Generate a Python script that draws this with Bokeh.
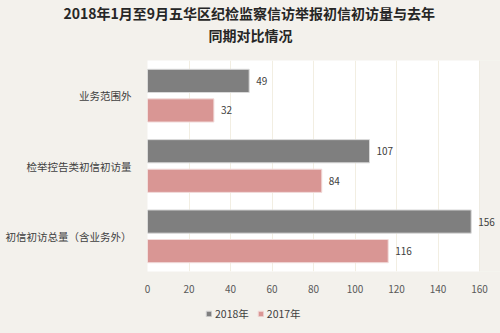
from bokeh.plotting import figure
from bokeh.layouts import column
from bokeh.models import (FactorRange, ColumnDataSource, Legend, LegendItem, Title,
                          SingleIntervalTicker, LabelSet, BoxAnnotation)
from bokeh.core.properties import value
from bokeh.transform import dodge
from bokeh.embed import file_html
from bokeh.resources import INLINE

categories = ["业务范围外", "检举控告类初信初访量", "初信初访总量（含业务外）"]
v2018 = [49, 107, 156]
v2017 = [32, 84, 116]
series_names = ["2018年", "2017年"]
title1 = "2018年1月至9月五华区纪检监察信访举报初信初访量与去年"
title2 = "同期对比情况"
axis_max = 160

FONT = "Noto Sans CJK SC"
BG = "#f3f1ec"
C18 = "#7f7f7f"
C17 = "#d99694"

factors = list(reversed(categories))
src = ColumnDataSource(dict(cat=categories, v18=v2018, v17=v2017,
                            l18=[str(v) for v in v2018], l17=[str(v) for v in v2017]))

p = figure(width=500, height=300, y_range=FactorRange(*factors), x_range=(0, axis_max * 353 / 332),
           output_backend="svg", toolbar_location=None,
           min_border_left=147, min_border_right=0, min_border_top=60, min_border_bottom=29)
p.background_fill_color = "white"
p.border_fill_color = BG
p.outline_line_color = None
# area beyond the last tick belongs to the chart background
p.add_layout(BoxAnnotation(left=axis_max, fill_color=BG, fill_alpha=1,
                           line_color="#e6e1d6", line_width=1, level="underlay"))

def bars(fig):
    a = fig.hbar(y=dodge("cat", 0.21, range=fig.y_range), right="v18", left=0, height=0.33,
                 source=src, fill_color=C18, line_color="#d9d9d9", line_width=1)
    b = fig.hbar(y=dodge("cat", -0.21, range=fig.y_range), right="v17", left=0, height=0.33,
                 source=src, fill_color=C17, line_color="#f2dcdb", line_width=1)
    return a, b

r18, r17 = bars(p)

for col, lab, off in (("v18", "l18", 0.21), ("v17", "l17", -0.21)):
    ls = LabelSet(x=col, y=dodge("cat", off, range=p.y_range), text=lab, source=src,
                  x_offset=7, text_baseline="middle", text_font_size=value("10px"),
                  text_color=value("#404040"), text_font=value(FONT))
    p.add_layout(ls)

p.xaxis.ticker = SingleIntervalTicker(interval=20)
p.xaxis.axis_line_color = None
p.xaxis.major_tick_line_color = None
p.xaxis.minor_tick_line_color = None
p.xaxis.major_label_text_font_size = "10px"
p.xaxis.major_label_text_color = "#595959"
p.xaxis.major_label_text_font = FONT
p.xaxis.major_label_standoff = 7

p.yaxis.axis_line_color = None
p.yaxis.major_tick_line_color = None
p.yaxis.major_label_text_font_size = "10.5px"
p.yaxis.major_label_text_color = "#404040"
p.yaxis.major_label_text_font = FONT
p.yaxis.major_label_standoff = 10

p.ygrid.grid_line_color = None
p.xgrid.grid_line_color = "#f2eee2"

# spacer between the plot area and the two title lines
p.add_layout(Title(text=" ", text_font_size="1px", standoff=13), "above")
p.add_layout(Title(text=title2, align="left", offset=61, standoff=0, text_font=FONT,
                   text_font_size="14px", text_font_style="bold", text_color="#262626"), "above")
p.add_layout(Title(text=title1, align="left", offset=-84, standoff=0, text_font=FONT,
                   text_font_size="14px", text_font_style="bold", text_color="#262626"), "above")

# legend strip below the chart
p2 = figure(width=500, height=33, y_range=FactorRange(*factors), x_range=(-100, -99),
            output_backend="svg", toolbar_location=None,
            min_border_left=0, min_border_right=0, min_border_top=0, min_border_bottom=0)
p2.axis.visible = False
p2.grid.visible = False
p2.background_fill_color = BG
p2.border_fill_color = BG
p2.outline_line_color = None
q18, q17 = bars(p2)

legend = Legend(items=[LegendItem(label=series_names[0], renderers=[q18]),
                       LegendItem(label=series_names[1], renderers=[q17])],
                orientation="horizontal", location=(58, 12),
                background_fill_alpha=0, border_line_color=None,
                label_text_font=FONT, label_text_font_size="10.5px", label_text_color="#404040",
                glyph_width=7, glyph_height=7, spacing=8, label_standoff=3, padding=0, margin=0)
p2.add_layout(legend)

layout = column(p, p2, spacing=0, styles={"background-color": BG})
open("out.html", "w").write(file_html(layout, INLINE))
